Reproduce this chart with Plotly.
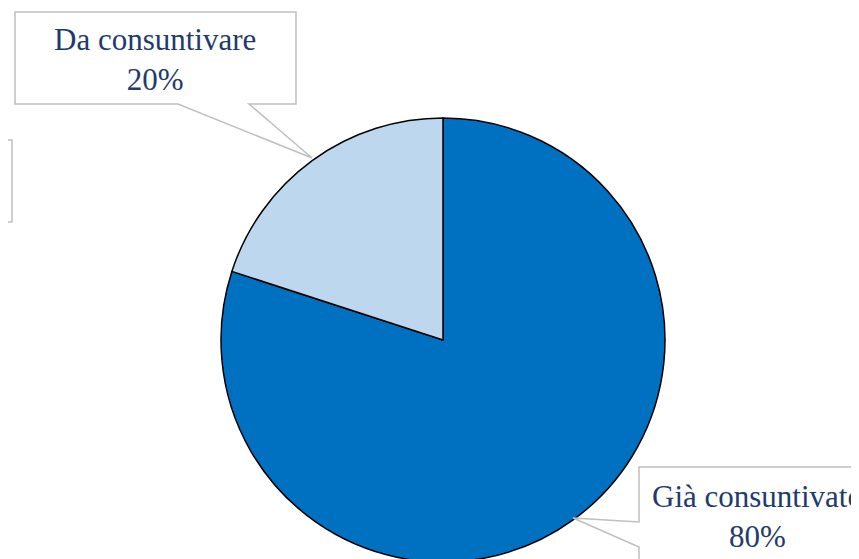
import plotly.graph_objects as go

labels = ["Già consuntivato", "Da consuntivare"]
values = [80, 20]
colors = ["#0070C0", "#BDD7EE"]

W, H = 859, 559
OFF = 8  # page body margin

def px(x):
    return (x - OFF) / W

def py(y):
    return 1 - (y - OFF) / H

def path(points):
    return "M " + " L ".join(f"{px(x):.5f},{py(y):.5f}" for x, y in points) + " Z"

CX, CY, R = 443, 340, 222

fig = go.Figure(go.Pie(
    labels=labels, values=values, sort=False, direction="clockwise", rotation=0,
    marker=dict(colors=colors, line=dict(color="#000000", width=1.5)),
    textinfo="none", hoverinfo="label+percent", showlegend=False,
    domain=dict(x=[px(CX - R), px(CX + R)], y=[py(CY + R), py(CY - R)]),
))

box_line = dict(color="#BFBFBF", width=1.5)
shapes = [
    dict(type="path", xref="paper", yref="paper",
         path=path([(15, 12), (296, 12), (296, 104), (249, 104), (312, 158), (178, 104), (15, 104)]),
         line=box_line, fillcolor="white", layer="above"),
    dict(type="path", xref="paper", yref="paper",
         path=path([(880, 467), (639, 467), (639, 522), (573, 518), (639, 547), (639, 600), (880, 600)]),
         line=box_line, fillcolor="white", layer="above"),
    dict(type="path", xref="paper", yref="paper",
         path=path([(-60, 140), (12, 140), (12, 222), (-60, 222)]),
         line=box_line, fillcolor="white", layer="above"),
]

font = dict(family="Liberation Serif, Times New Roman, serif", size=31, color="#1F3A6E")
annotations = [
    dict(x=px(155), y=py(60), xref="paper", yref="paper", showarrow=False,
         text=f"{labels[1]}<br>{values[1]}%", font=font, align="center",
         xanchor="center", yanchor="middle"),
    dict(x=px(757), y=py(516), xref="paper", yref="paper", showarrow=False,
         text=f"{labels[0]}<br>{values[0]}%", font=font, align="center",
         xanchor="center", yanchor="middle"),
    dict(x=px(7), y=py(168), xref="paper", yref="paper", showarrow=False,
         text=f"{labels[0]}", font=font, xanchor="right", yanchor="middle"),
]

fig.update_layout(
    width=W, height=H, margin=dict(l=0, r=0, t=0, b=0),
    paper_bgcolor="white", plot_bgcolor="white",
    shapes=shapes, annotations=annotations,
)

fig.write_html("out.html")
